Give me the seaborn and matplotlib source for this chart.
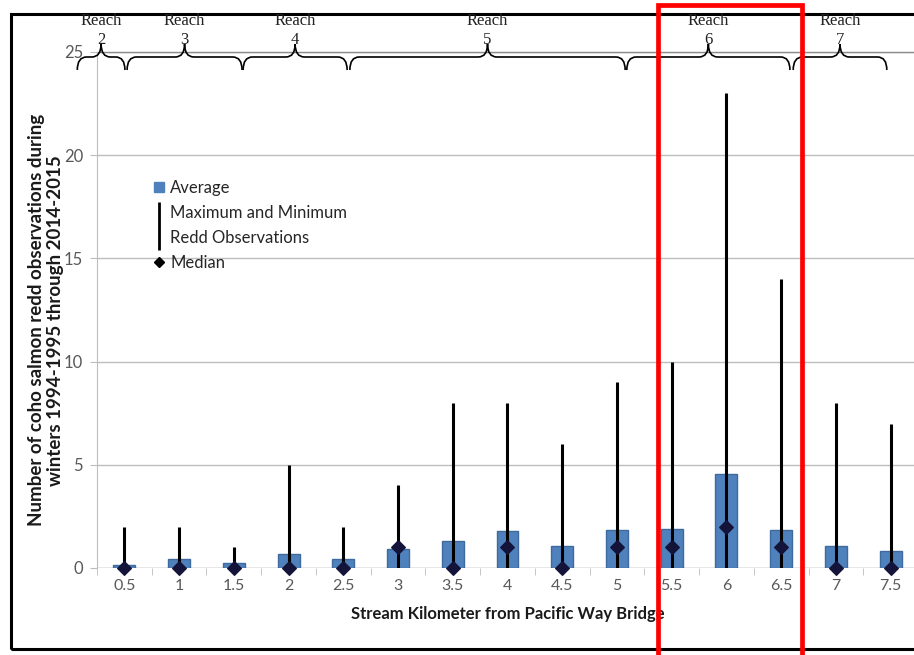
import numpy as np
import pandas as pd
import matplotlib
matplotlib.use("Agg")
import matplotlib.pyplot as plt
import matplotlib.transforms as mtransforms
from matplotlib.path import Path
from matplotlib.patches import PathPatch, Rectangle
from matplotlib.lines import Line2D
import seaborn as sns

# data
km = ["0.5", "1", "1.5", "2", "2.5", "3", "3.5", "4", "4.5", "5",
      "5.5", "6", "6.5", "7", "7.5"]
average = [0.15, 0.42, 0.22, 0.68, 0.42, 0.9, 1.3, 1.77, 1.05, 1.82,
           1.87, 4.55, 1.82, 1.05, 0.81]
maximum = [2, 2, 1, 5, 2, 4, 8, 8, 6, 9, 10, 23, 14, 8, 7]
minimum = [0, 0, 0, 0, 0, 0, 0, 0, 0, 0, 0, 0, 0, 0, 0]
median = [0, 0, 0, 0, 0, 1, 0, 1, 0, 1, 1, 2, 1, 0, 0]

# reaches: label, left edge, right edge (in bar-index units)
reach_names = ["2", "3", "4", "5", "6", "7"]
reach_left = [-0.86, 0.05, 2.17, 4.12, 9.18, 12.22]
reach_right = [0.01, 2.15, 4.07, 9.15, 12.16, 13.93]

df = pd.DataFrame({"km": km, "average": average, "maximum": maximum,
                   "minimum": minimum, "median": median})

sns.set_style("white")
plt.rcParams["font.family"] = ["Lato", "DejaVu Sans"]

fig = plt.figure(figsize=(9.14, 6.55), dpi=100)
ax = fig.add_axes([97 / 914, 87 / 655, 821 / 914, 516 / 655])

grey = "#595959"
sns.barplot(data=df, x="km", y="average", color="#4F81BD", width=0.4,
            edgecolor="#3F6A9E", linewidth=1, saturation=1, ax=ax, zorder=2)
pos = np.arange(len(df))
ax.vlines(pos, df["minimum"], df["maximum"], color="black", lw=2.2, zorder=3)
ax.scatter(pos, df["median"], marker="D", s=48, color="#14143A", zorder=4,
           clip_on=False)

ax.set_xlim(-0.5, len(df) - 0.5)
ax.set_ylim(0, 25)
ax.set_yticks([0, 5, 10, 15, 20, 25])
ax.yaxis.grid(True, color="#BDBDBD", lw=1)
ax.set_axisbelow(True)
for s in ["top", "right", "bottom"]:
    ax.spines[s].set_visible(False)
ax.spines["left"].set_color("#BDBDBD")
ax.axhline(0, color="#BDBDBD", lw=1, zorder=1)
ax.axhline(25, color="#8C8C8C", lw=1, zorder=1, clip_on=False)
ax.set_xticks(np.arange(-0.5, len(df), 1), minor=True)
ax.tick_params(axis="x", which="major", length=0, pad=8, labelsize=11.5,
               labelcolor=grey)
ax.tick_params(axis="x", which="minor", length=5, color="#BDBDBD",
               direction="out", bottom=True)
ax.tick_params(axis="y", length=5, color="#BDBDBD", direction="out", left=True,
               labelsize=12, labelcolor=grey, pad=5)

ax.set_xlabel("Stream Kilometer from Pacific Way Bridge", fontsize=12,
              fontweight="bold", color="#1A1A1A", labelpad=9)
ax.set_ylabel("Number of coho salmon redd observations during\n"
              "winters 1994-1995 through 2014-2015", fontsize=13.5,
              fontweight="bold", color="#1A1A1A", linespacing=1.15)
ax.yaxis.set_label_coords(-0.04, 0.48)

# legend
handles = [
    Line2D([], [], marker="s", ls="none", color="#4F81BD", markersize=7),
    Line2D([], [], marker="|", ls="none", color="black", markersize=34,
           markeredgewidth=2),
    Line2D([], [], marker="D", ls="none", color="black", markersize=5.5),
]
labels = ["Average", "Maximum and Minimum\nRedd Observations", "Median"]
leg = ax.legend(handles, labels, frameon=False, loc="upper left",
                bbox_to_anchor=(137 / 914, 1 - 165 / 655),
                bbox_transform=fig.transFigure, fontsize=12, handlelength=0.8,
                handletextpad=0.3, labelspacing=0.55)
leg.get_texts()[1].set_linespacing(1.65)

# reach braces above the plot
trans = mtransforms.blended_transform_factory(ax.transData, fig.transFigure)
y_end = 1 - 70 / 655
y_bar = 1 - 57 / 655
y_tip = 1 - 44 / 655
for name, x0, x1 in zip(reach_names, reach_left, reach_right):
    xm = (x0 + x1) / 2
    r = 0.17
    verts = [(x0, y_end), (x0, y_bar), (x0 + r, y_bar),
             (xm - r, y_bar), (xm, y_bar), (xm, y_tip),
             (xm, y_bar), (xm + r, y_bar),
             (x1 - r, y_bar), (x1, y_bar), (x1, y_end)]
    codes = [Path.MOVETO, Path.CURVE3, Path.CURVE3,
             Path.LINETO, Path.CURVE3, Path.CURVE3,
             Path.CURVE3, Path.CURVE3,
             Path.LINETO, Path.CURVE3, Path.CURVE3]
    patch = PathPatch(Path(verts, codes), fill=False, lw=1.2, ec="black",
                      transform=trans, clip_on=False)
    fig.add_artist(patch)
    fig.text(xm, 1 - 21 / 655, "Reach", transform=trans, ha="center",
             va="center", fontsize=12, family="Liberation Serif",
             color="#222222")
    fig.text(xm, 1 - 40 / 655, name, transform=trans, ha="center",
             va="center", fontsize=12, family="Liberation Serif",
             color="#222222")

# outer black border and red highlight box
fig.add_artist(Rectangle((11 / 914, 1 - 649 / 655), 0.99, 635 / 655,
                         fill=False, ec="black", lw=2.2,
                         transform=fig.transFigure, clip_on=False))
fig.add_artist(Rectangle((658 / 914, -0.05), 144 / 914, 1 - 5 / 655 + 0.05,
                         fill=False, ec="#FF0000", lw=3.4,
                         transform=fig.transFigure, clip_on=False))

fig.savefig("out.png", dpi=100)
